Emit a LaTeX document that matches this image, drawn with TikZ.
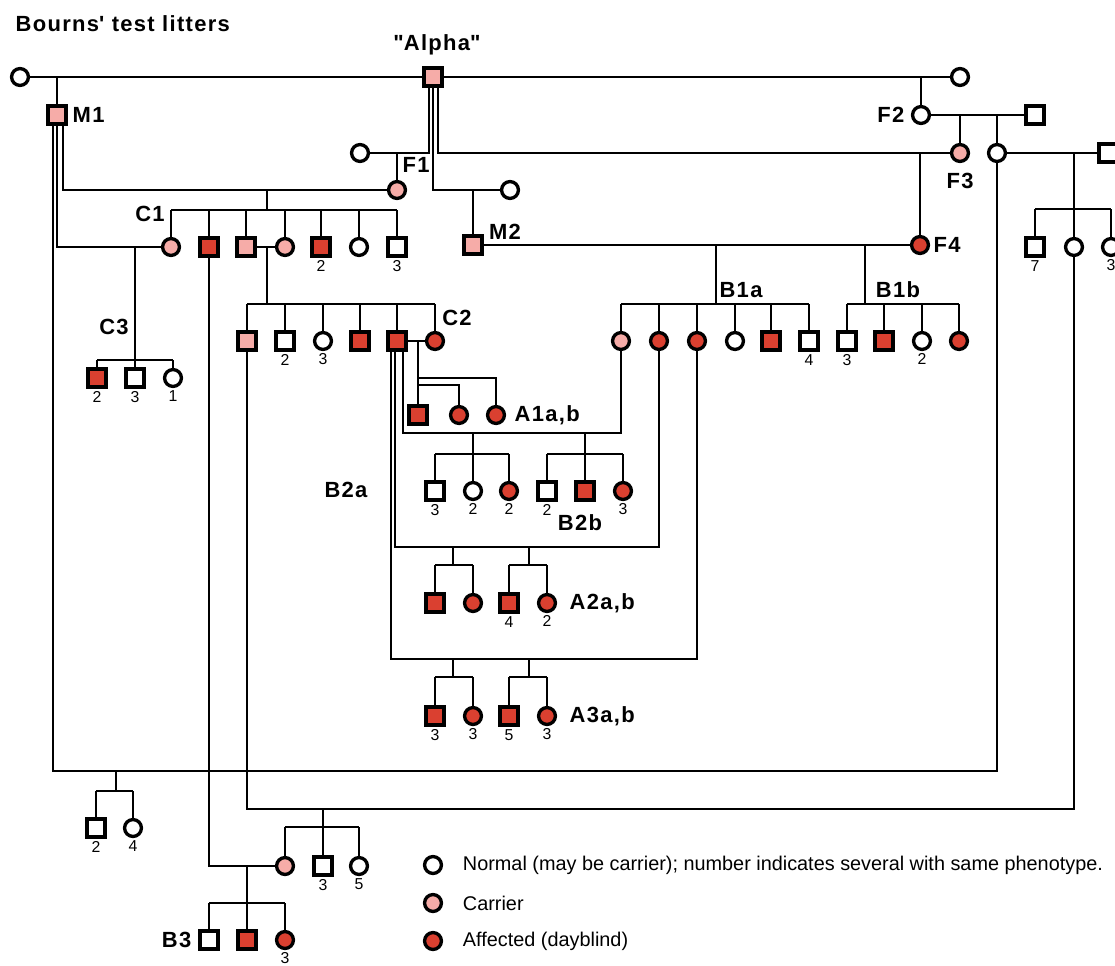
\documentclass[tikz,border=0pt]{standalone}
\usepackage{fontspec}
\setmainfont{Liberation Sans}
\usetikzlibrary{calc}
\definecolor{dayred}{RGB}{218,64,48}
\definecolor{carpink}{RGB}{246,172,168}
\tikzset{
  male/.style={draw, rectangle, line width=2pt, minimum size=10pt, inner sep=0pt},
  female/.style={draw, circle, line width=1.9pt, minimum size=9.6pt, inner sep=0pt},
  norm/.style={fill=white},
  carr/.style={fill=carpink},
  aff/.style={fill=dayred},
  cnt/.style={label={[font=\fontsize{9}{10}\selectfont, inner sep=1pt]below:#1}},
  tag/.style={font=\fontsize{12.5}{14}\selectfont\bfseries\addfontfeature{LetterSpace=6}, inner sep=1pt},
  legtext/.style={font=\fontsize{11.3}{13}\selectfont, anchor=west, inner sep=0pt}
}

\begin{document}
\begin{tikzpicture}[x=0.02cm, y=-0.02cm, line width=1.1pt]
    \useasboundingbox (0,0) rectangle (1115,965);

    % Founders
    \node[female,norm] (g1) at (20,77) {};
    \node[male,carr] (alpha) at (433,77) {};
    \node[female,norm] (g2) at (960,77) {};
    \node[male,carr] (m1) at (57,115) {};
    \node[female,norm] (f2) at (921,115) {};
    \node[male,norm] (g3) at (1035,115) {};
    \node[female,norm] (g4) at (360,153) {};
    \node[female,carr] (f3) at (960,153) {};
    \node[female,norm] (g5) at (997,153) {};
    \node[male,norm] (g6) at (1108,153) {};
    \node[female,carr] (f1) at (397,190) {};
    \node[female,norm] (g7) at (510,190) {};
    \node[male,carr] (m2) at (473,245) {};
    \node[female,aff] (f4) at (920,245) {};

    % Litter C1
    \node[female,carr] (c1a) at (171,247) {};
    \node[male,aff] (c1b) at (209,247) {};
    \node[male,carr] (c1c) at (246,247) {};
    \node[female,carr] (c1d) at (285,247) {};
    \node[male,aff,cnt=2] (c1e) at (321,247) {};
    \node[female,norm] (c1f) at (359,247) {};
    \node[male,norm,cnt=3] (c1g) at (397,247) {};
    % Litter on the right edge
    \node[male,norm,cnt=7] (r1) at (1035,247) {};
    \node[female,norm] (r2) at (1074,247) {};
    \node[female,norm,cnt=3] (r3) at (1111,247) {};
    % Litter C3
    \node[male,aff,cnt=2] (c3a) at (97,378) {};
    \node[male,norm,cnt=3] (c3b) at (135,378) {};
    \node[female,norm,cnt=1] (c3c) at (173,378) {};
    % Litter C2
    \node[male,carr] (c2a) at (247,341) {};
    \node[male,norm,cnt=2] (c2b) at (285,341) {};
    \node[female,norm,cnt=3] (c2c) at (323,341) {};
    \node[male,aff] (c2d) at (360,341) {};
    \node[male,aff] (c2e) at (397,341) {};
    \node[female,aff] (c2f) at (435,341) {};
    % Litters B1a, B1b
    \node[female,carr] (b1a) at (621,341) {};
    \node[female,aff] (b1b) at (659,341) {};
    \node[female,aff] (b1c) at (697,341) {};
    \node[female,norm] (b1d) at (735,341) {};
    \node[male,aff] (b1e) at (771,341) {};
    \node[male,norm,cnt=4] (b1f) at (809,341) {};
    \node[male,norm,cnt=3] (b1g) at (847,341) {};
    \node[male,aff] (b1h) at (884,341) {};
    \node[female,norm,cnt=2] (b1i) at (922,341) {};
    \node[female,aff] (b1j) at (959,341) {};
    % Litters A1a,b
    \node[male,aff] (a1a) at (418,415) {};
    \node[female,aff] (a1b) at (459,415) {};
    \node[female,aff] (a1c) at (496,415) {};
    % Litters B2a, B2b
    \node[male,norm,cnt=3] (b2a) at (435,491) {};
    \node[female,norm,cnt=2] (b2b) at (473,491) {};
    \node[female,aff,cnt=2] (b2c) at (509,491) {};
    \node[male,norm,cnt=2] (b2d) at (547,491) {};
    \node[male,aff] (b2e) at (585,491) {};
    \node[female,aff,cnt=3] (b2f) at (623,491) {};
    % Litters A2a,b
    \node[male,aff] (a2a) at (435,603) {};
    \node[female,aff] (a2b) at (473,603) {};
    \node[male,aff,cnt=4] (a2c) at (509,603) {};
    \node[female,aff,cnt=2] (a2d) at (547,603) {};
    % Litters A3a,b
    \node[male,aff,cnt=3] (a3a) at (435,716) {};
    \node[female,aff,cnt=3] (a3b) at (473,716) {};
    \node[male,aff,cnt=5] (a3c) at (509,716) {};
    \node[female,aff,cnt=3] (a3d) at (547,716) {};
    % Bottom litters
    \node[male,norm,cnt=2] (d1) at (96,828) {};
    \node[female,norm,cnt=4] (d2) at (133,828) {};
    \node[female,carr] (e1) at (285,866) {};
    \node[male,norm,cnt=3] (e2) at (323,866) {};
    \node[female,norm,cnt=5] (e3) at (359,866) {};
    \node[male,norm] (h1) at (209,940) {};
    \node[male,aff] (h2) at (247,940) {};
    \node[female,aff,cnt=3] (h3) at (285,940) {};

    % Mating points and litter bars
    \coordinate (mC1) at (267,190);  \coordinate (bC1) at (267,210);
    \coordinate (mC3) at (135,247);  \coordinate (bC3) at (135,360);
    \coordinate (mC2) at (267,247);  \coordinate (bC2) at (267,304);
    \coordinate (mB1a) at (716,245); \coordinate (bB1a) at (716,304);
    \coordinate (mB1b) at (865,245); \coordinate (bB1b) at (865,304);
    \coordinate (mR) at (1074,153);  \coordinate (bR) at (1074,209);
    \coordinate (mA1) at (418,341);
    \coordinate (jA1c) at (418,378); \coordinate (jA1b) at (418,385);
    \coordinate (mB2a) at (473,433); \coordinate (bB2a) at (473,454);
    \coordinate (mB2b) at (585,433); \coordinate (bB2b) at (585,454);
    \coordinate (mA2a) at (453,547); \coordinate (bA2a) at (453,565);
    \coordinate (mA2b) at (529,547); \coordinate (bA2b) at (529,565);
    \coordinate (mA3a) at (453,659); \coordinate (bA3a) at (453,677);
    \coordinate (mA3b) at (529,659); \coordinate (bA3b) at (529,677);
    \coordinate (mD) at (116,771);   \coordinate (bD) at (116,791);
    \coordinate (mE) at (323,809);   \coordinate (bE) at (323,827);
    \coordinate (mB3) at (247,866);  \coordinate (bB3) at (247,903);

    % Matings
    \draw (g1) -- (alpha);
    \draw (alpha) -- (g2);
    \draw (m1) -- (m1 |- g1);
    \draw (f2) -- (f2 |- g2);
    \draw (f2) -- (g3);
    \draw (f3) -- (f3 |- f2);
    \draw (g5) -- (g5 |- f2);
    \draw (g5) -- (g6);
    \draw ($(alpha.south)+(-4,0)$) |- (g4);
    \draw (alpha.south) |- (g7);
    \draw ($(alpha.south)+(5,0)$) |- (f3);
    \draw (f1) -- (f1 |- g4);
    \draw (m2) -- (m2 |- g7);
    \draw (f4) -- (f4 |- f3);
    \draw ($(m1.south)+(6,0)$) |- (f1);
    \draw (m1.south) |- (c1a);
    \draw ($(m1.south)+(-4,0)$) |- (mD) -| (g5);
    \draw (c1c) -- (c1d);
    \draw (m2) -- (f4);
    \draw (c2e) -- (c2f);
    \draw ($(c2e.south)+(6,0)$) |- (mB2a) -| (b1a);
    \draw ($(c2e.south)+(-2,0)$) |- (mA2a) -| (b1b);
    \draw ($(c2e.south)+(-6,0)$) |- (mA3a) -| (b1c);
    \draw (c2a) |- (mE) -| (r2);
    \draw (c1b) |- (e1);

    % Litters
    \draw (mC1) -- (bC1) (c1a |- bC1) -- (c1g |- bC1);
    \foreach \k in {c1a,c1b,c1c,c1d,c1e,c1f,c1g} \draw (\k) -- (\k |- bC1);
    \draw (mC3) -- (bC3) (c3a |- bC3) -- (c3c |- bC3);
    \foreach \k in {c3a,c3b,c3c} \draw (\k) -- (\k |- bC3);
    \draw (mC2) -- (bC2) (c2a |- bC2) -- (c2f |- bC2);
    \foreach \k in {c2a,c2b,c2c,c2d,c2e,c2f} \draw (\k) -- (\k |- bC2);
    \draw (mB1a) -- (bB1a) (b1a |- bB1a) -- (b1f |- bB1a);
    \foreach \k in {b1a,b1b,b1c,b1d,b1e,b1f} \draw (\k) -- (\k |- bB1a);
    \draw (mB1b) -- (bB1b) (b1g |- bB1b) -- (b1j |- bB1b);
    \foreach \k in {b1g,b1h,b1i,b1j} \draw (\k) -- (\k |- bB1b);
    \draw (mR) -- (bR) (r1 |- bR) -- (r3 |- bR);
    \foreach \k in {r1,r2,r3} \draw (\k) -- (\k |- bR);
    \draw (mA1) -- (a1a);
    \draw (jA1c) -| (a1c);
    \draw (jA1b) -| (a1b);
    \draw (mB2a) -- (bB2a) (b2a |- bB2a) -- (b2c |- bB2a);
    \foreach \k in {b2a,b2b,b2c} \draw (\k) -- (\k |- bB2a);
    \draw (mB2b) -- (bB2b) (b2d |- bB2b) -- (b2f |- bB2b);
    \foreach \k in {b2d,b2e,b2f} \draw (\k) -- (\k |- bB2b);
    \draw (mA2a) -- (bA2a) (a2a |- bA2a) -- (a2b |- bA2a);
    \draw (mA2b) -- (bA2b) (a2c |- bA2b) -- (a2d |- bA2b);
    \foreach \k in {a2a,a2b} \draw (\k) -- (\k |- bA2a);
    \foreach \k in {a2c,a2d} \draw (\k) -- (\k |- bA2b);
    \draw (mA3a) -- (bA3a) (a3a |- bA3a) -- (a3b |- bA3a);
    \draw (mA3b) -- (bA3b) (a3c |- bA3b) -- (a3d |- bA3b);
    \foreach \k in {a3a,a3b} \draw (\k) -- (\k |- bA3a);
    \foreach \k in {a3c,a3d} \draw (\k) -- (\k |- bA3b);
    \draw (mD) -- (bD) (d1 |- bD) -- (d2 |- bD);
    \foreach \k in {d1,d2} \draw (\k) -- (\k |- bD);
    \draw (mE) -- (bE) (e1 |- bE) -- (e3 |- bE);
    \foreach \k in {e1,e2,e3} \draw (\k) -- (\k |- bE);
    \draw (mB3) -- (bB3) (h1 |- bB3) -- (h3 |- bB3);
    \foreach \k in {h1,h2,h3} \draw (\k) -- (\k |- bB3);

    % Labels
    \node[tag, anchor=west] (title) at (13,24) {Bourns\textquotesingle\ test litters};
    \node[tag] (alphatag) at (437,45) {\textquotedbl Alpha\textquotedbl};
    \node[tag, anchor=west] (m1tag) at (70,115) {M1};
    \node[tag] (f1tag) at (416,165) {F1};
    \node[tag, anchor=east] (f2tag) at (907,115) {F2};
    \node[tag] (f3tag) at (960,181) {F3};
    \node[tag] (c1tag) at (150,214) {C1};
    \node[tag] (m2tag) at (505,232) {M2};
    \node[tag, anchor=west] (f4tag) at (931,245) {F4};
    \node[tag] (c3tag) at (114,327) {C3};
    \node[tag] (c2tag) at (457,318) {C2};
    \node[tag] (b1atag) at (741,290) {B1a};
    \node[tag] (b1btag) at (898,290) {B1b};
    \node[tag, anchor=west] (a1tag) at (512,415) {A1a,b};
    \node[tag] (b2atag) at (346,490) {B2a};
    \node[tag] (b2btag) at (580,523) {B2b};
    \node[tag, anchor=west] (a2tag) at (567,603) {A2a,b};
    \node[tag, anchor=west] (a3tag) at (567,716) {A3a,b};
    \node[tag, anchor=east] (b3tag) at (194,940) {B3};

    % Legend
    \node[female,norm] (k1) at (433,865) {};
    \node[female,carr] (k2) at (433,903) {};
    \node[female,aff] (k3) at (433,941) {};
    \node[legtext] (k1txt) at (462,865) {Normal (may be carrier); number indicates several with same phenotype.};
    \node[legtext] (k2txt) at (462,903) {Carrier};
    \node[legtext] (k3txt) at (462,941) {Affected (dayblind)};
\end{tikzpicture}
\end{document}
